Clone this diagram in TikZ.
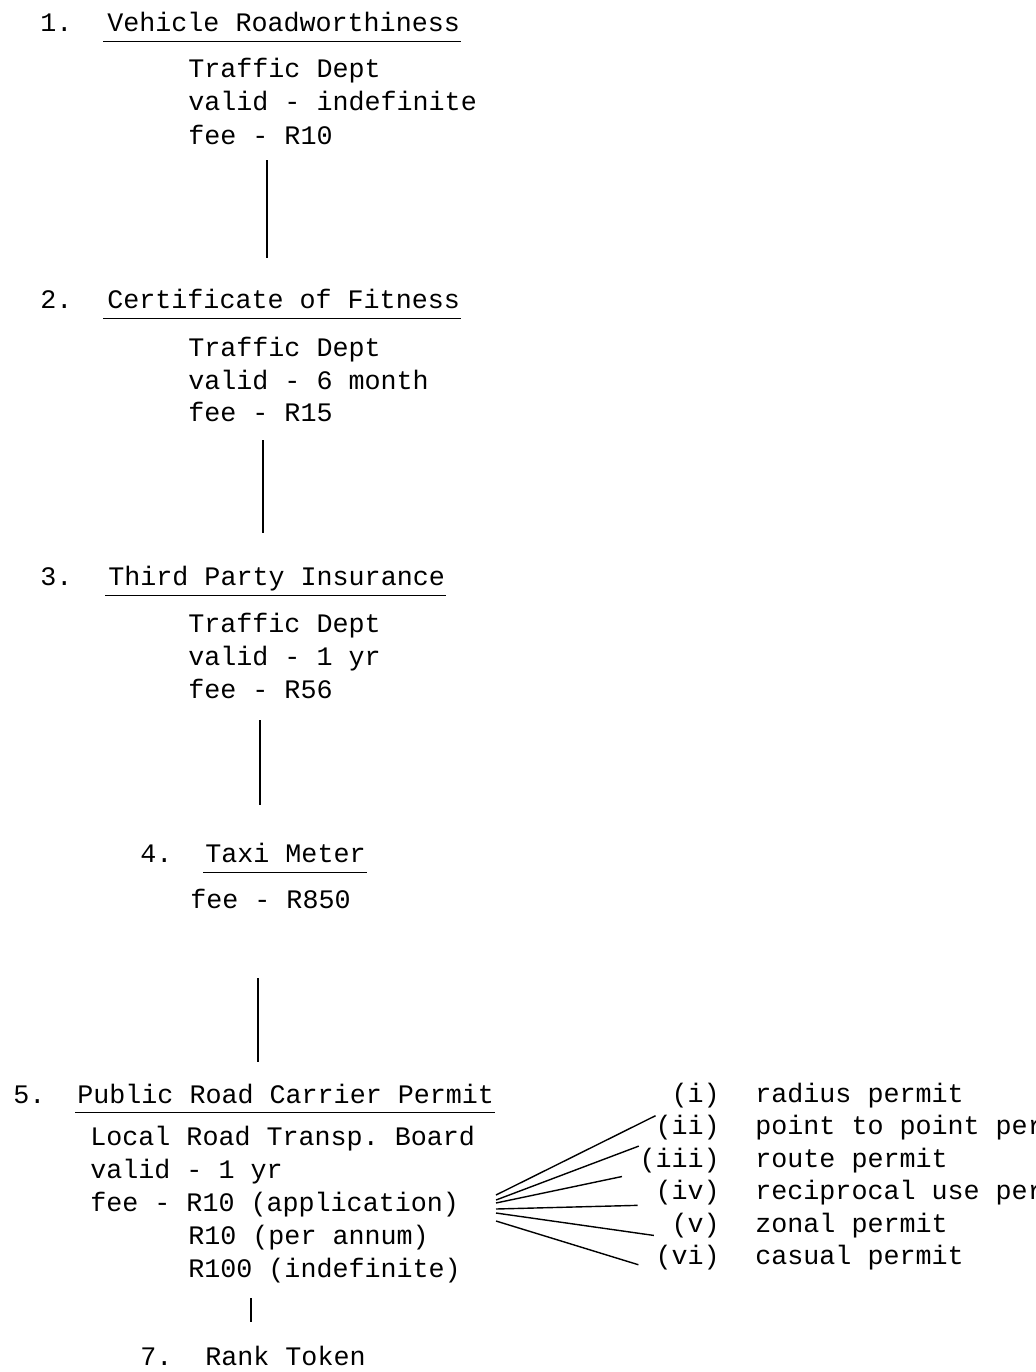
\documentclass[tikz,border=0pt]{standalone}
\usepackage{fontspec}
\setmonofont{Liberation Mono}
\begin{document}
\begin{tikzpicture}[x=0.02cm,y=-0.02cm,
		txt/.style={anchor=base west,inner sep=0pt,font=\ttfamily\fontsize{15.2}{18}\selectfont},
		rtxt/.style={txt,anchor=base east},
		link/.style={line width=1pt},
		ray/.style={line width=0.8pt,shorten >=10pt}]
	\useasboundingbox (0,0) rectangle (1035,1372);
	\clip (0,0) rectangle (1035,1372);

	% 1
	\node[txt] (n1) at (40,32) {1.};
	\node[txt] (h1) at (107,32) {Vehicle Roadworthiness};
	\draw ([shift={(-4,9)}]h1.base west) -- ([shift={(1,9)}]h1.base east);
	\node[txt] (a1) at (188,78) {Traffic Dept};
	\node[txt] (v1) at (188,111) {valid - indefinite};
	\node[txt] (f1) at (188,144) {fee - R10};
	\coordinate (t1) at (267,160);
	\coordinate (b1) at (267,258);
	\draw[link] (t1) -- (b1);

	% 2
	\node[txt] (n2) at (40,308) {2.};
	\node[txt] (h2) at (107,308) {Certificate of Fitness};
	\draw ([shift={(-4,10)}]h2.base west) -- ([shift={(1,10)}]h2.base east);
	\node[txt] (a2) at (188,356) {Traffic Dept};
	\node[txt] (v2) at (188,389) {valid - 6 month};
	\node[txt] (f2) at (188,421) {fee - R15};
	\coordinate (t2) at (263,440);
	\coordinate (b2) at (263,533);
	\draw[link] (t2) -- (b2);

	% 3
	\node[txt] (n3) at (40,585) {3.};
	\node[txt] (h3) at (108,585) {Third Party Insurance};
	\draw ([shift={(-3,10)}]h3.base west) -- ([shift={(1,10)}]h3.base east);
	\node[txt] (a3) at (188,632) {Traffic Dept};
	\node[txt] (v3) at (188,665) {valid - 1 yr};
	\node[txt] (f3) at (188,698) {fee - R56};
	\coordinate (t3) at (260,720);
	\coordinate (b3) at (260,805);
	\draw[link] (t3) -- (b3);

	% 4
	\node[txt] (n4) at (140,862) {4.};
	\node[txt] (h4) at (205,862) {Taxi Meter};
	\draw ([shift={(-2,10)}]h4.base west) -- ([shift={(1,10)}]h4.base east);
	\node[txt] (f4) at (190,908) {fee - R850};
	\coordinate (t4) at (258,978);
	\coordinate (b4) at (258,1062);
	\draw[link] (t4) -- (b4);

	% 5
	\node[txt] (n5) at (13,1103) {5.};
	\node[txt] (h5) at (77,1103) {Public Road Carrier Permit};
	\draw ([shift={(-2,9)}]h5.base west) -- ([shift={(1,9)}]h5.base east);
	\node[txt] (a5) at (90,1145) {Local Road Transp. Board};
	\node[txt] (v5) at (90,1178) {valid - 1 yr};
	\node[txt] (f5) at (90,1211) {fee - R10 (application)};
	\node[txt] (g5) at (188,1244) {R10 (per annum)};
	\node[txt] (k5) at (188,1277) {R100 (indefinite)};
	\coordinate (t5) at (251,1298);
	\coordinate (b5) at (251,1322);
	\draw[link] (t5) -- (b5);

	% 7
	\node[txt] (n7) at (140,1365) {7.};
	\node[txt] (h7) at (205,1365) {Rank Token};

	% permit types
	\coordinate (hub) at (496,1206);
	\node[rtxt] (r1) at (720,1102) {(i)};
	\node[rtxt] (r2) at (720,1134) {(ii)};
	\node[rtxt] (r3) at (720,1167) {(iii)};
	\node[rtxt] (r4) at (720,1199) {(iv)};
	\node[rtxt] (r5) at (720,1232) {(v)};
	\node[rtxt] (r6) at (720,1264) {(vi)};
	\node[txt] (p1) at (755,1102) {radius permit};
	\node[txt] (p2) at (755,1134) {point to point permit};
	\node[txt] (p3) at (755,1167) {route permit};
	\node[txt] (p4) at (755,1199) {reciprocal use permit};
	\node[txt] (p5) at (755,1232) {zonal permit};
	\node[txt] (p6) at (755,1264) {casual permit};
	\foreach \r/\dy in {1/-11,2/-6,3/-3,4/3,5/7,6/15}
		\draw[ray] ([shift={(0,\dy)}]hub) -- (r\r.south west);
\end{tikzpicture}
\end{document}
